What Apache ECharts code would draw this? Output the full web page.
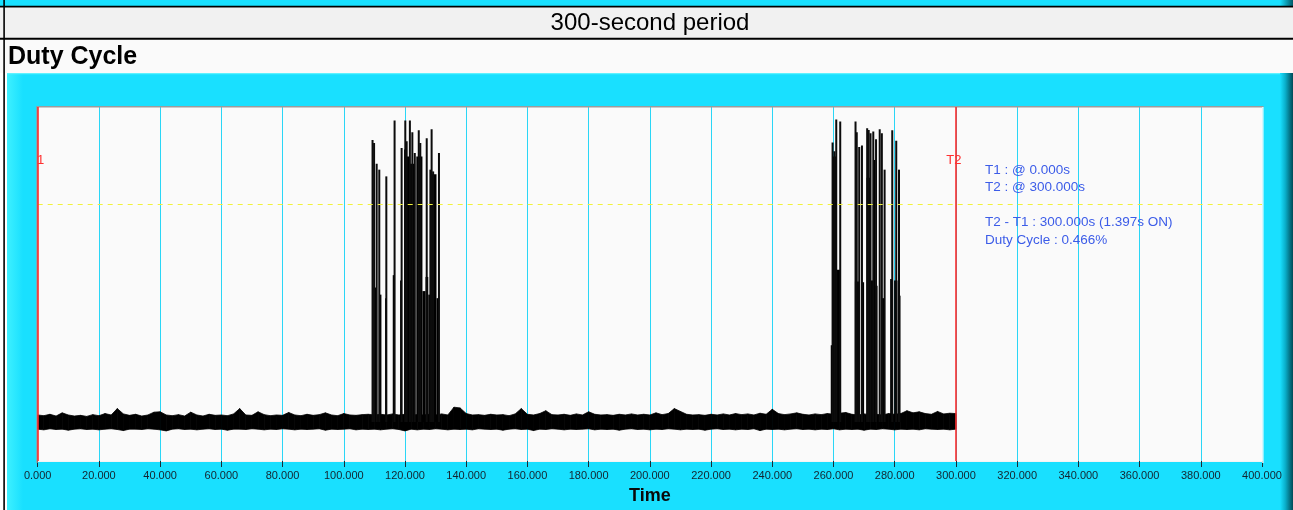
<!DOCTYPE html>
<html>
<head>
<meta charset="utf-8">
<title>Duty Cycle</title>
<script src="https://cdn.jsdelivr.net/npm/echarts@6/dist/echarts.min.js"></script>
<style>
html, body { margin: 0; padding: 0; background: #ffffff; }
#chart { width: 1293px; height: 510px; }
</style>
</head>
<body>
<div id="chart"></div>
<script>
// ================================
// data
// ================================
const STEP = 2; // seconds between envelope samples (0 .. 300)

// upper edge of the noise floor
const noiseTop = [
    13.0, 12.8, 13.2, 12.7, 13.6, 13.0, 12.7, 12.9, 12.6, 13.1,
    12.8, 13.4, 13.0, 14.8, 13.3, 12.9, 13.2, 12.7, 13.0, 13.8,
    13.9, 13.0, 12.8, 13.1, 12.7, 13.8, 13.0, 12.7, 13.2, 12.9,
    13.0, 12.8, 13.3, 14.8, 13.0, 12.9, 13.9, 13.1, 12.8, 13.0,
    12.9, 13.7, 13.0, 12.8, 13.2, 12.9, 13.1, 13.6, 13.0, 12.8,
    13.4, 13.0, 12.9, 13.1, 13.2, 13.0, 13.2, 13.0, 13.3, 13.0,
    13.2, 13.0, 13.1, 13.0, 13.2, 13.0, 13.3, 13.0, 15.2, 15.0,
    13.4, 13.0, 13.1, 12.9, 13.2, 13.0, 13.1, 12.8, 13.3, 14.8,
    13.2, 13.0, 13.4, 14.2, 13.1, 13.0, 13.2, 12.9, 13.3, 13.0,
    13.9, 13.2, 13.0, 13.1, 12.9, 13.2, 13.0, 13.3, 13.0, 13.2,
    13.0, 13.6, 13.1, 13.4, 14.8, 14.0, 13.2, 13.0, 13.1, 12.9,
    13.2, 13.0, 13.3, 13.0, 13.4, 13.1, 13.3, 13.0, 13.5, 13.2,
    14.6, 13.4, 13.1, 13.3, 13.6, 13.2, 13.0, 13.3, 13.1, 13.4,
    13.2, 13.5, 13.7, 13.2, 13.0, 13.3, 13.1, 13.2, 13.0, 13.4,
    13.2, 13.4, 14.2, 13.6, 13.9, 13.4, 13.2, 14.0, 13.3, 13.5,
    13.4
];

// lower edge of the noise floor
const noiseBottom = [
    9.0, 8.8, 9.1, 8.9, 9.0, 8.7, 9.0, 9.1, 8.9, 9.0,
    8.8, 9.0, 9.1, 8.9, 8.6, 9.0, 9.0, 8.9, 9.1, 9.0,
    8.8, 8.5, 9.0, 9.1, 8.9, 9.0, 8.8, 9.0, 9.1, 8.9,
    9.0, 8.7, 9.0, 9.0, 8.9, 9.1, 9.0, 8.8, 9.0, 8.9,
    9.1, 9.0, 8.8, 9.0, 8.9, 9.0, 9.1, 8.7, 9.0, 8.9,
    9.0, 9.1, 8.8, 9.0, 8.9, 9.0, 8.8, 9.0, 9.1, 8.9,
    8.5, 9.0, 8.8, 9.0, 8.9, 9.1, 9.0, 8.8, 9.0, 8.9,
    9.0, 8.8, 9.1, 9.0, 8.9, 9.0, 8.7, 9.0, 9.1, 8.9,
    9.0, 8.6, 9.0, 8.9, 9.1, 9.0, 8.8, 9.0, 8.9, 9.0,
    9.1, 8.8, 9.0, 8.9, 9.0, 8.7, 9.0, 9.1, 8.9, 9.0,
    8.8, 9.0, 8.9, 9.1, 9.0, 8.8, 9.0, 8.9, 9.0, 8.7,
    9.0, 9.1, 8.9, 9.0, 8.8, 9.0, 8.9, 9.1, 8.6, 9.0,
    8.9, 9.0, 8.8, 9.0, 9.1, 8.9, 9.0, 8.8, 9.0, 8.9,
    9.1, 8.8, 9.0, 8.9, 9.0, 8.7, 9.0, 8.9, 9.1, 9.0,
    8.8, 9.0, 8.9, 9.0, 8.8, 9.1, 9.0, 8.9, 9.0, 8.8,
    9.0
];

// dense ON stretches inside the bursts: [start s, end s, level]
const burstBlocks = [
    [109.7, 110.8, 49], [111.6, 112.3, 47], [113.5, 114.1, 46],
    [116.0, 116.6, 52.5], [118.4, 119.0, 51], [119.7, 120.6, 88],
    [120.6, 121.4, 86], [121.4, 123.3, 84], [123.7, 125.7, 86],
    [125.7, 126.7, 48], [126.7, 127.6, 52], [127.6, 128.3, 47],
    [128.3, 130.3, 81], [130.3, 130.9, 46],
    [259.1, 259.6, 32.7], [259.6, 261.0, 86], [261.0, 262.3, 54],
    [267.0, 268.4, 50.7], [269.3, 270.0, 50.5], [270.8, 272.1, 80],
    [272.1, 273.0, 51], [273.0, 273.6, 85], [273.6, 274.4, 49.5],
    [275.8, 276.7, 46], [278.5, 279.3, 51.4], [279.8, 280.9, 51],
    [281.2, 281.9, 46.7]
];

// single spikes: [time s, peak]
const spikes = [
    [109.4, 90.7], [109.9, 89.8], [110.75, 84.0], [111.6, 82.3],
    [113.9, 80.4], [116.6, 96.2], [118.9, 88.4], [120.1, 96.2],
    [120.55, 90.3], [121.6, 96.2], [122.4, 92.9], [123.2, 87.0],
    [124.5, 93.4], [125.0, 89.8], [127.1, 91.2], [128.3, 82.3],
    [128.7, 93.7], [129.2, 81.8], [131.1, 87.0],
    [259.7, 90.0], [260.3, 87.5], [260.9, 96.5], [262.2, 95.9],
    [267.2, 95.9], [267.6, 92.9], [268.4, 88.7], [269.3, 89.1],
    [271.0, 94.0], [271.5, 93.5], [272.1, 92.6], [273.0, 93.1],
    [273.9, 90.9], [275.1, 93.7], [275.8, 92.6], [276.7, 82.3],
    [279.2, 93.4], [280.5, 90.5], [281.4, 82.3]
];

const SPIKE_BASE = 11;
const THRESHOLD = 72.5;
const T1 = 0;
const T2 = 300;
const CURSOR_LABEL_LEVEL = 85;
const X_MIN = 0, X_MAX = 400, X_STEP = 20;

const headerText = '300-second period';
const panelTitle = 'Duty Cycle';
const readout = [
    'T1 : @ 0.000s',
    'T2 : @ 300.000s',
    '',
    'T2 - T1 : 300.000s (1.397s ON)',
    'Duty Cycle : 0.466%'
];

// ================================
// options
// ================================
const CYAN = '#19e0ff';
const FONT = 'Arial, "Liberation Sans", sans-serif';

// one segment of the noise floor per sample pair
const bandData = noiseTop.slice(0, -1).map((hi, i) => [
    i * STEP, noiseBottom[i], hi,
    (i + 1) * STEP, noiseBottom[i + 1], noiseTop[i + 1]
]);

function renderBand(params, api) {
    const a = api.coord([api.value(0), api.value(2)]);
    const b = api.coord([api.value(3), api.value(5)]);
    const c = api.coord([api.value(3), api.value(4)]);
    const d = api.coord([api.value(0), api.value(1)]);
    return {
        type: 'polygon',
        shape: { points: [a, b, c, d] },
        style: { fill: '#000', stroke: '#000', lineWidth: 0.8 }
    };
}

function renderBlock(params, api) {
    const p0 = api.coord([api.value(0), SPIKE_BASE]);
    const p1 = api.coord([api.value(1), api.value(2)]);
    return {
        type: 'rect',
        shape: { x: p0[0], y: p1[1], width: Math.max(p1[0] - p0[0], 1), height: p0[1] - p1[1] },
        style: { fill: '#000' }
    };
}

function renderSpike(params, api) {
    const a = api.coord([api.value(0), SPIKE_BASE]);
    const b = api.coord([api.value(0), api.value(1)]);
    return {
        type: 'line',
        shape: { x1: a[0], y1: a[1], x2: b[0], y2: b[1] },
        style: { stroke: '#0c0c0c', lineWidth: 2 }
    };
}

const chart = echarts.init(document.getElementById('chart'));
chart.setOption({
    animation: false,
    backgroundColor: '#ffffff',
    grid: {
        left: 37.7, top: 107, width: 1224.3, height: 356,
        show: true, backgroundColor: '#fafafa', borderWidth: 0
    },
    xAxis: {
        type: 'value',
        min: X_MIN, max: X_MAX, interval: X_STEP,
        name: 'Time',
        nameLocation: 'middle',
        nameGap: 26,
        nameTextStyle: { fontFamily: FONT, fontWeight: 'bold', fontSize: 18, color: '#0a0a0a' },
        axisLine: { show: true, lineStyle: { color: '#f4f4f4', width: 1 } },
        axisTick: { show: true, length: 6, lineStyle: { color: '#1a2a36' } },
        axisLabel: {
            fontFamily: FONT, fontSize: 11, color: '#14232e', margin: 9,
            formatter: v => v.toFixed(3)
        },
        splitLine: { show: true, lineStyle: { color: '#2ad6f6', width: 1 } }
    },
    yAxis: {
        type: 'value', min: 0, max: 100,
        show: false,
        splitLine: { show: false }
    },
    graphic: [
        // outer frame
        { type: 'rect', z: -10, shape: { x: 0, y: 0, width: 1293, height: 7 }, style: { fill: CYAN } },
        { type: 'rect', z: -10, shape: { x: 1280, y: 0, width: 13, height: 7 },
          style: { fill: new echarts.graphic.LinearGradient(0, 0, 1, 0, [
              { offset: 0, color: CYAN }, { offset: 1, color: '#005866' }]) } },
        { type: 'rect', z: -10, shape: { x: 0, y: 7.5, width: 1293, height: 30.5 }, style: { fill: '#f1f1f1' } },
        { type: 'rect', z: -10, shape: { x: 0, y: 40, width: 1293, height: 33 }, style: { fill: '#fafafa' } },
        { type: 'rect', z: -10, shape: { x: 0, y: 5.8, width: 1293, height: 1.8 }, style: { fill: '#000' } },
        { type: 'rect', z: -10, shape: { x: 0, y: 37.8, width: 1293, height: 2 }, style: { fill: '#000' } },
        { type: 'rect', z: -10, shape: { x: 7, y: 73, width: 1286, height: 437 }, style: { fill: CYAN } },
        { type: 'rect', z: -10, shape: { x: 7, y: 73, width: 16, height: 437 },
          style: { fill: new echarts.graphic.LinearGradient(0, 0, 1, 0, [
              { offset: 0, color: '#3ef0ff' }, { offset: 1, color: CYAN }]) } },
        { type: 'rect', z: -10, shape: { x: 1280, y: 73, width: 13, height: 437 },
          style: { fill: new echarts.graphic.LinearGradient(0, 0, 1, 0, [
              { offset: 0, color: CYAN }, { offset: 0.4, color: '#0ab0cc' }, { offset: 1, color: '#004a56' }]) } },
        { type: 'rect', z: -10, shape: { x: 7, y: 73, width: 1273, height: 1.2 }, style: { fill: '#5ef2ff' } },
        { type: 'rect', z: -10, shape: { x: 3.3, y: 0, width: 1.6, height: 510 }, style: { fill: '#000' } },
        // inset edge of the plot
        { type: 'rect', z: 5, shape: { x: 36.5, y: 106, width: 1227, height: 1.4 }, style: { fill: '#9c9c9c' } },
        { type: 'rect', z: 5, shape: { x: 36.3, y: 106, width: 1.4, height: 357 }, style: { fill: '#9c9c9c' } },
        { type: 'rect', z: 5, shape: { x: 1262.2, y: 107, width: 1.3, height: 356 }, style: { fill: '#ffffff' } },
        // titles
        { type: 'text', z: 10, x: 650, y: 11,
          style: { text: headerText, font: '24px ' + FONT, fill: '#000', textAlign: 'center' } },
        { type: 'text', z: 10, left: 8, top: 45,
          style: { text: panelTitle, font: 'bold 25px ' + FONT, fill: '#000' } },
        // cursor readout
        { type: 'text', z: 10, left: 985, top: 161,
          style: { text: readout.join('\n'), font: '13.5px ' + FONT, fill: '#3c5ce8', lineHeight: 17.6 } }
    ],
    series: [
        {
            name: 'noise', type: 'custom', data: bandData,
            renderItem: renderBand, encode: { x: [0, 3], y: [1, 2, 4, 5] }, silent: true, z: 2,
            markLine: {
                silent: true, symbol: 'none',
                label: { show: false },
                data: [
                    { yAxis: THRESHOLD, lineStyle: { color: '#f2f23a', width: 1, type: [5, 5] } },
                    { xAxis: T1, lineStyle: { color: '#ff2a2a', width: 1.6, type: 'solid' } },
                    { xAxis: T2, lineStyle: { color: '#ff2a2a', width: 1.6, type: 'solid' } }
                ]
            },
            markPoint: {
                silent: true, symbol: 'circle', symbolSize: 1,
                itemStyle: { color: 'rgba(0,0,0,0)' },
                label: { show: true, position: 'inside', color: '#ff3030', fontFamily: FONT, fontSize: 13 },
                data: [
                    { coord: [T1, CURSOR_LABEL_LEVEL], value: '1', label: { formatter: '1', offset: [3, 0] } },
                    { coord: [T2, CURSOR_LABEL_LEVEL], value: 'T2', label: { formatter: 'T2', offset: [-2, 0] } }
                ]
            }
        },
        {
            name: 'blocks', type: 'custom', data: burstBlocks,
            renderItem: renderBlock, encode: { x: [0, 1], y: 2 }, silent: true, z: 3
        },
        {
            name: 'spikes', type: 'custom', data: spikes,
            renderItem: renderSpike, encode: { x: 0, y: 1 }, silent: true, z: 3
        }
    ]
});
</script>
</body>
</html>
